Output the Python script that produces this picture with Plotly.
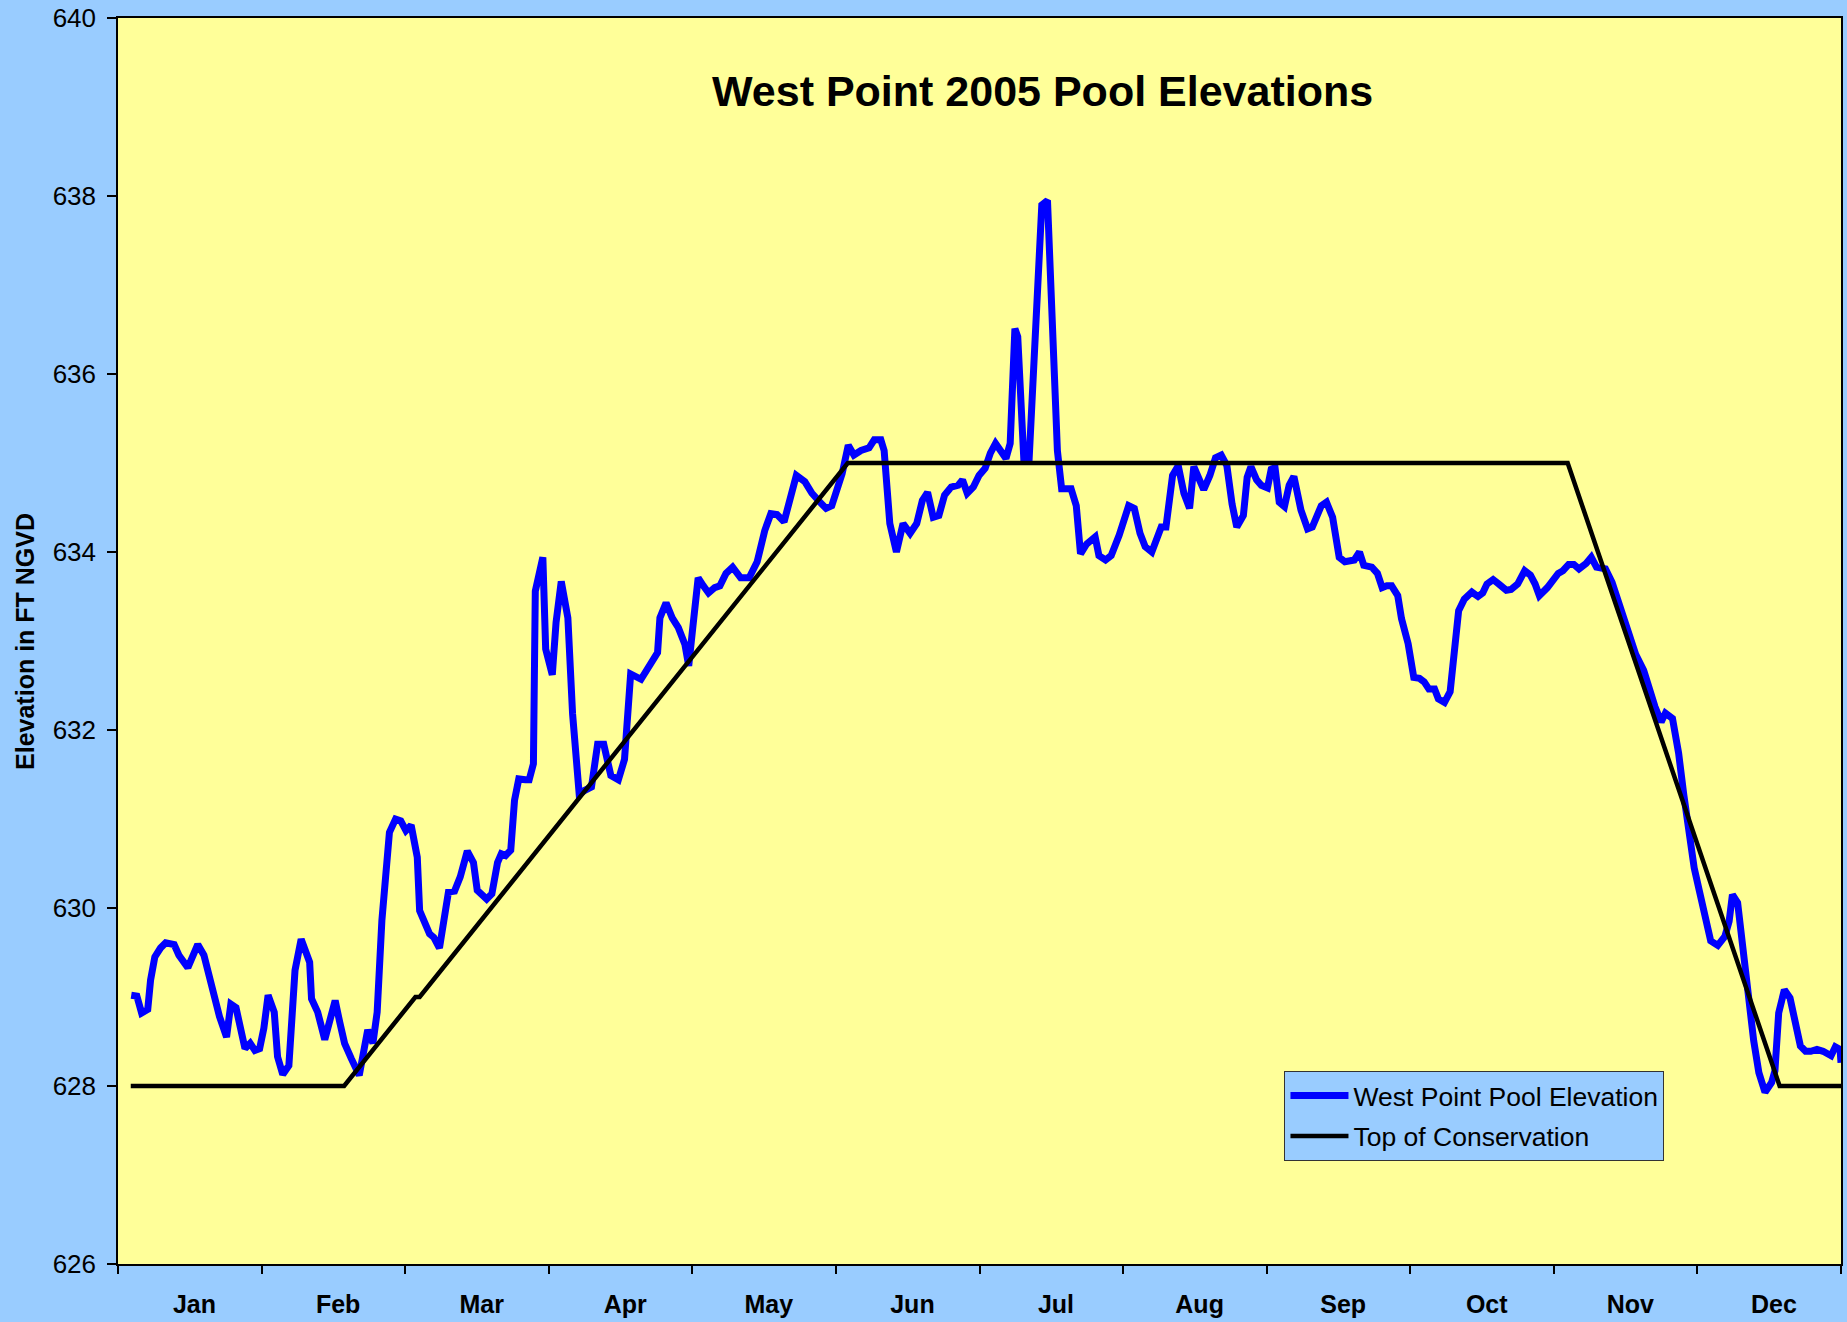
import numpy as np
import plotly.graph_objects as go

# ---- data -------------------------------------------------------------
months = ["Jan", "Feb", "Mar", "Apr", "May", "Jun",
          "Jul", "Aug", "Sep", "Oct", "Nov", "Dec"]

pool_day = [
    2.8, 4.0, 5.0, 6.3, 6.9, 7.8, 9.0, 10.1, 11.9, 12.9, 14.8, 16.9, 18.2, 19.2,
    20.1, 21.5, 23.0, 23.9, 25.0, 26.1, 26.9, 28.0, 29.0, 30.0, 30.9, 31.8, 33.1,
    33.8, 34.9, 36.2, 37.5, 38.8, 40.6, 41.0, 42.3, 43.8, 46.0, 47.0, 48.0, 49.4,
    51.1, 52.9, 54.0, 54.9, 55.9, 57.5, 58.8, 59.9, 61.0, 62.1, 63.4, 63.9, 64.9,
    66.0, 66.9, 68.1, 70.0, 71.3, 72.5, 74.0, 75.3, 76.1, 78.1, 79.2, 80.4, 81.2,
    82.1, 83.2, 84.0, 84.9, 86.3, 87.1, 88.0, 88.4, 90.0, 90.6, 92.0, 92.8, 93.9,
    95.3, 96.3, 97.7, 98.8, 100.3, 101.6, 102.9, 104.4, 106.0, 107.3, 108.6,
    110.8, 112.6, 114.3, 114.8, 116.1, 117.4, 118.7, 120.1, 120.9, 121.8, 122.9,
    124.0, 125.1, 126.4, 127.5, 128.8, 130.2, 131.9, 133.7,
    135.4, 137.0, 138.3, 139.6, 141.1, 142.4, 143.7, 145.5, 147.0, 148.7, 150.0,
    151.2, 152.2, 153.4, 154.7, 155.9, 157.4, 159.1, 160.2, 161.6, 162.3, 163.5,
    164.9, 166.3, 167.8, 169.2, 170.4, 171.5, 172.7, 173.9, 175.1, 176.5, 178.0,
    178.9, 179.9, 181.2, 182.4, 183.7, 184.8, 185.9, 187.2, 188.1, 189.0, 190.0,
    190.6, 191.9, 193.0, 195.7, 196.9, 199.0,
    199.9, 201.9, 203.0, 203.9, 205.2, 207.0, 207.8, 209.2, 210.4, 212.1, 214.1,
    215.3, 216.5, 217.6, 219.0, 221.0, 222.0, 223.4, 224.6, 225.8, 227.0, 227.9,
    229.1, 230.0, 231.3, 232.5, 233.7, 234.9, 236.0, 237.0, 238.4, 239.2, 240.0,
    241.2, 242.2, 243.5, 244.3, 245.1, 246.0, 247.1, 248.1, 249.1, 250.6, 252.0,
    253.0, 254.9, 256.0, 257.3, 258.7, 259.9, 261.9, 263.0, 263.9, 265.6, 266.8,
    267.8, 268.8, 269.8, 271.1, 271.9, 273.3, 274.5, 275.7, 276.7, 277.7, 278.9,
    279.7, 281.0, 282.2, 283.0, 284.0, 285.2, 286.8, 288.1, 289.1, 290.0, 291.3,
    292.5, 294.1, 295.1, 296.5, 298.0, 299.2, 300.2, 301.1, 302.8, 303.8, 305.1,
    306.1, 307.3, 308.4, 309.5, 311.0,
    312.1, 313.2, 315.1, 316.5, 318.0, 319.5, 320.6, 321.5, 323.2, 324.3, 325.6,
    326.9, 327.8, 329.3, 330.6, 331.7, 332.8, 333.9, 335.0, 336.1, 337.4, 338.9,
    340.4, 341.3, 342.0, 343.1, 344.2, 345.4, 346.5, 347.6, 348.9, 350.3, 351.0,
    351.8, 353.0, 354.2, 355.3, 356.4, 357.5, 358.6, 359.9, 361.2, 362.9, 363.8,
    364.8, 365.0,
]

pool_elev = [
    629.02, 629.01, 628.82, 628.86, 629.19, 629.45, 629.55, 629.61, 629.59, 629.47,
    629.33, 629.59, 629.47, 629.26, 629.00, 628.78, 628.55, 628.92, 628.88, 628.59,
    628.42, 628.48, 628.40, 628.42, 628.65, 629.02, 628.83, 628.33, 628.13, 628.23,
    629.30, 629.65, 629.39, 628.98, 628.83, 628.52, 628.96, 628.71, 628.48, 628.31,
    628.12, 628.63, 628.48, 628.83, 629.86, 630.85, 631.00, 630.98, 630.87, 630.93,
    630.57, 629.97, 629.86, 629.71, 629.67, 629.55, 630.18, 630.19, 630.35, 630.64,
    630.51, 630.20, 630.10, 630.16, 630.51, 630.61, 630.59, 630.65, 631.21, 631.45,
    631.44, 631.44, 631.62, 633.56, 633.94, 632.91, 632.62, 633.21, 633.67, 633.26,
    632.18, 631.28, 631.32, 631.36, 631.84, 631.84, 631.49, 631.44, 631.67, 632.63,
    632.57, 632.74, 632.87, 633.26, 633.43, 633.26, 633.15, 632.96, 632.72, 633.17,
    633.71, 633.62, 633.54, 633.60, 633.62, 633.76, 633.83, 633.71, 633.71,
    633.89, 634.24, 634.43, 634.42, 634.34, 634.58, 634.86, 634.79, 634.66, 634.56,
    634.49, 634.52, 634.67, 634.88, 635.20, 635.09, 635.14, 635.17, 635.26, 635.26,
    635.14, 634.32, 634.00, 634.32, 634.21, 634.32, 634.58, 634.67, 634.39, 634.41,
    634.64, 634.73, 634.75, 634.81, 634.66, 634.73, 634.86, 634.94, 635.11, 635.22,
    635.12, 635.05, 635.22, 636.51, 636.42, 635.03, 635.03, 637.90, 637.95, 635.14,
    634.71, 634.71, 634.52, 633.98, 634.09, 634.17, 633.96, 633.91, 633.96, 634.19,
    634.52, 634.49, 634.21, 634.06, 634.00, 634.28, 634.28, 634.86, 634.97, 634.66,
    634.49, 634.96, 634.81, 634.70, 634.86, 635.06, 635.09, 634.97, 634.54, 634.28,
    634.41, 634.84, 634.96, 634.81, 634.75, 634.72, 634.93, 634.95, 634.56, 634.51,
    634.75, 634.85, 634.47, 634.26, 634.28, 634.52, 634.56, 634.39, 633.94, 633.89,
    633.91, 634.00, 633.85, 633.83, 633.76, 633.60, 633.62, 633.62, 633.51, 633.25,
    632.97, 632.59, 632.58, 632.54, 632.46, 632.46, 632.35, 632.31, 632.43, 632.93,
    633.34, 633.47, 633.55, 633.50, 633.54, 633.64, 633.69, 633.64, 633.57, 633.58,
    633.64, 633.79, 633.74, 633.64, 633.51, 633.60, 633.66, 633.76, 633.79, 633.86,
    633.86, 633.81, 633.87,
    633.94, 633.83, 633.81, 633.66, 633.40, 633.20, 632.99, 632.85, 632.67, 632.47,
    632.26, 632.09, 632.19, 632.13, 631.74, 631.27, 630.80, 630.45, 630.19, 629.89,
    629.63, 629.58, 629.68, 629.85, 630.15, 630.06, 629.50, 628.99, 628.51, 628.15,
    627.93, 628.04, 628.17, 628.82, 629.08, 628.99, 628.69, 628.45, 628.39, 628.39,
    628.41, 628.39, 628.34, 628.44, 628.41, 628.26,
]

guide_day = [2.7, 47.9, 63.0, 63.9, 154.6, 307.1, 352.0, 365.0]
guide_elev = [628.0, 628.0, 629.0, 629.0, 635.0, 635.0, 628.0, 628.0]

# ---- figure -----------------------------------------------------------
FONT = "Liberation Sans, Arial, sans-serif"
year_len = 365.0
month_edges = np.linspace(0, year_len, 13)
label_pos = (month_edges[:-1] + month_edges[1:]) / 2 + 1.0

fig = go.Figure()
fig.add_trace(go.Scatter(
    x=pool_day, y=pool_elev, mode="lines",
    name="West Point Pool Elevation", legendgroup="a",
    line=dict(color="#0000FF", width=7),
))
fig.add_trace(go.Scatter(
    x=guide_day, y=guide_elev, mode="lines",
    name="Top of Conservation", legendgroup="b",
    line=dict(color="#000000", width=4.5),
))

fig.update_layout(
    width=1847, height=1322,
    margin=dict(l=118, r=6, t=18, b=58, autoexpand=False),
    paper_bgcolor="#99CCFF",
    plot_bgcolor="#FFFF99",
    font=dict(family=FONT, color="black"),
    showlegend=True,
    legend=dict(
        x=0.677, y=0.155, xanchor="left", yanchor="top",
        bgcolor="#99CCFF", bordercolor="#333333", borderwidth=1,
        font=dict(family=FONT, size=26.5, color="black"),
        itemwidth=58, tracegroupgap=3,
    ),
    xaxis=dict(
        range=[0, year_len], automargin=False,
        tickmode="array", tickvals=label_pos, ticktext=months,
        ticks="", ticklabelstandoff=17,
        tickfont=dict(family=FONT, size=25, color="black", weight="bold"),
        showgrid=False, zeroline=False,
        showline=True, linecolor="black", linewidth=1.5, mirror=True,
        minor=dict(tickmode="array", tickvals=month_edges, ticks="outside",
                   ticklen=8, tickwidth=1.5, tickcolor="black", showgrid=False),
    ),
    yaxis=dict(
        range=[626, 640], tickmode="linear", tick0=626, dtick=2,
        automargin=False,
        ticks="outside", ticklen=9, tickwidth=1.5, tickcolor="black",
        ticklabelstandoff=6,
        tickfont=dict(family=FONT, size=26, color="black"),
        showgrid=False, zeroline=False,
        showline=True, linecolor="black", linewidth=1.5, mirror=True,
    ),
    annotations=[
        dict(text="<b>West Point 2005 Pool Elevations</b>",
             xref="paper", yref="paper", x=0.5363, y=0.9414,
             xanchor="center", yanchor="middle", showarrow=False,
             font=dict(family=FONT, size=43, color="black")),
        dict(text="<b>Elevation in FT NGVD</b>",
             xref="paper", yref="paper", x=-0.054, y=0.5,
             xanchor="center", yanchor="middle", showarrow=False,
             textangle=-90,
             font=dict(family=FONT, size=25, color="black")),
    ],
)

fig.write_html(
    "out.html",
    config={"displayModeBar": False, "responsive": False},
    post_script="document.body.style.margin='0px';"
                "document.body.style.background='#99CCFF';",
)
